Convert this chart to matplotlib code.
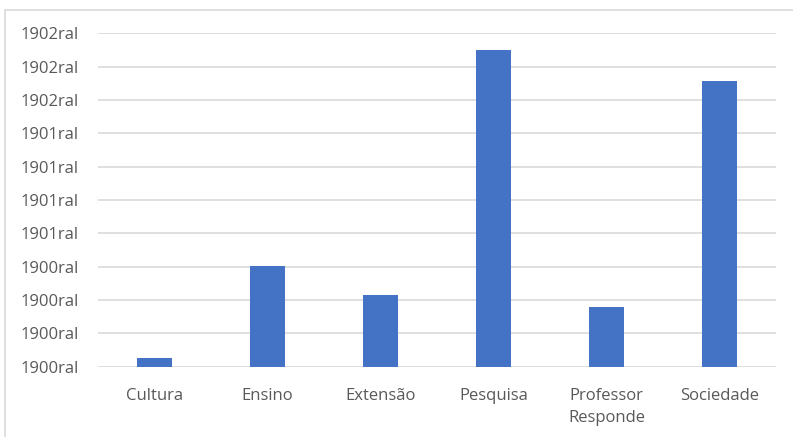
import matplotlib.pyplot as plt
from matplotlib.patches import Rectangle

categories = ['Cultura', 'Ensino', 'Extensão', 'Pesquisa', 'Professor\nResponde', 'Sociedade']
values = [25, 302, 215, 950, 178, 857]
yticks = [0, 100, 200, 300, 400, 500, 600, 700, 800, 900, 1000]
ytick_labels = ['1900ral'] * 4 + ['1901ral'] * 4 + ['1902ral'] * 3

plt.rcParams['font.family'] = ['Open Sans', 'DejaVu Sans']

W, H = 793, 437
fig = plt.figure(figsize=(W / 100, H / 100), dpi=100)
ax = fig.add_axes([98 / W, (H - 366.7) / H, (776 - 98) / W, (366.7 - 33.3) / H])

# chart-area border (only top and left show in the crop)
fig.patches.append(Rectangle((5 / W, -0.1), 1.2, (H - 10) / H + 0.1,
                             transform=fig.transFigure, fill=False,
                             edgecolor='#D9D9D9', linewidth=1.2))

x = range(len(categories))
ax.bar(x, values, width=0.31, color='#4472C4', zorder=3)

ax.set_xlim(-0.5, len(categories) - 0.5)
ax.set_ylim(0, 1000)
ax.set_yticks(yticks)
ax.set_yticklabels(ytick_labels)
ax.set_xticks(list(x))
ax.set_xticklabels(categories, linespacing=1.55)
ax.grid(axis='y', color='#D9D9D9', linewidth=1.2, zorder=0)
for s in ax.spines.values():
    s.set_visible(False)
ax.tick_params(axis='both', length=0, colors='#595959', labelsize=12)
ax.tick_params(axis='y', pad=14)
ax.tick_params(axis='x', pad=15)

fig.savefig('out.png', dpi=100)
